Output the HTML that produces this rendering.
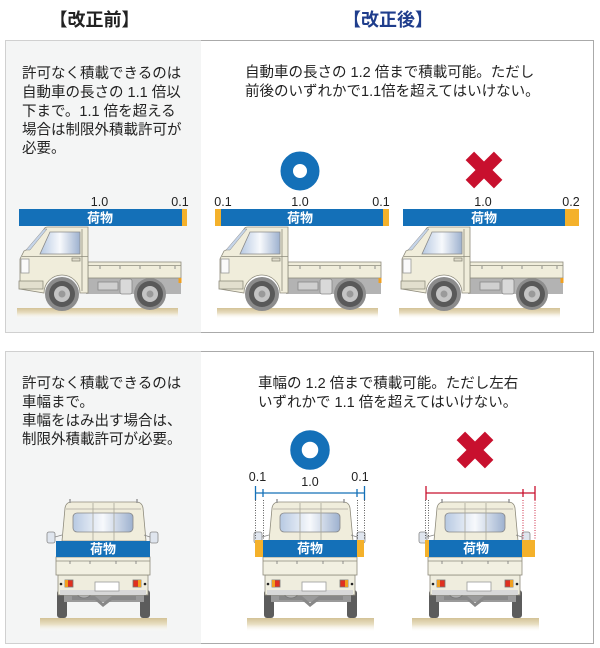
<!DOCTYPE html>
<html><head><meta charset="utf-8"><style>
html,body{margin:0;padding:0;background:#fff;}
svg{display:block}
text{font-family:"Liberation Sans","Noto Sans CJK JP",sans-serif;}
.b{font-size:14.5px;fill:#222}
.n{font-size:12.5px;fill:#222}
.k{font-size:13px;fill:#fff;font-weight:bold}
</style></head><body>
<svg width="600" height="648" viewBox="0 0 600 648" xmlns="http://www.w3.org/2000/svg">
<defs>
 <linearGradient id="win" x1="0" x2="1" y1="0" y2="0">
  <stop offset="0" stop-color="#b7c9e2"/><stop offset="0.5" stop-color="#f7f9fc"/><stop offset="1" stop-color="#9db1cf"/>
 </linearGradient>
 <linearGradient id="gnd" x1="0" x2="0" y1="0" y2="1">
  <stop offset="0" stop-color="#d3c296"/><stop offset="0.45" stop-color="#e9dfc3"/><stop offset="1" stop-color="#ffffff" stop-opacity="0"/>
 </linearGradient>
 <g id="side" stroke="#8e8b7c" stroke-width="0.8">
  <rect x="17" y="308" width="161" height="11" fill="url(#gnd)" stroke="none"/>
  <rect x="86" y="277" width="95" height="17" fill="#b3b3b3" stroke="none"/>
  <rect x="98" y="282" width="20" height="8" fill="#d0d0d0" stroke="#888"/>
  <rect x="120" y="279" width="12" height="15" rx="2" fill="#d9d9d9" stroke="#888"/>
  <circle cx="150" cy="294" r="16" fill="#8c8c8c" stroke="none"/>
  <rect x="88" y="262" width="93" height="16" fill="#f0eddb"/>
  <line x1="88" y1="265.5" x2="181" y2="265.5"/>
  <path d="M100 266v3M120 266v3M140 266v3M160 266v3M175 266v3" stroke="#777"/>
  <rect x="178.5" y="278" width="3" height="5" fill="#f0a020" stroke="none"/>
  <circle cx="62" cy="294" r="17" fill="#8c8c8c" stroke="none"/>
  <path d="M20 289 L20 259 L24 251 L32 247 L44 229 Q45 227 48 227 L88 227 L88 293 L80 293 A18 18 0 0 0 44 293 Z" fill="#f0eddb"/>
  <path d="M26 250 L44 229 L47 229 L30 250 Z" fill="#c5d4e8" stroke="#8a8a8a" stroke-width="0.5"/>
  <path d="M50 232 L80 232 L80 254 L40 254 Z" fill="url(#win)" stroke="#8a8a8a"/>
  <line x1="82" y1="229" x2="82" y2="291"/>
  <line x1="22" y1="256.5" x2="88" y2="256.5"/>
  <rect x="72" y="258" width="8" height="3" fill="#e0ddcc"/>
  <rect x="21" y="259" width="8" height="14" fill="#fafafa" stroke="#999"/>
  <rect x="19" y="281" width="24" height="8" fill="#e2dfce"/>
  <circle cx="62" cy="294" r="13" fill="#595959" stroke="none"/>
  <circle cx="62" cy="294" r="8" fill="#c4c4c4" stroke="none"/>
  <circle cx="62" cy="294" r="3.5" fill="#9a9a9a" stroke="none"/>
  <circle cx="150" cy="294" r="13" fill="#595959" stroke="none"/>
  <circle cx="150" cy="294" r="8" fill="#c4c4c4" stroke="none"/>
  <circle cx="150" cy="294" r="3.5" fill="#9a9a9a" stroke="none"/>
 </g>
 <g id="rear" stroke="#8e8b7c" stroke-width="0.8">
  <rect x="40" y="618" width="127" height="14" fill="url(#gnd)" stroke="none"/>
  <rect x="57" y="590" width="10" height="28" rx="3" fill="#5c5c5c" stroke="none"/>
  <rect x="140" y="590" width="10" height="28" rx="3" fill="#5c5c5c" stroke="none"/>
  <rect x="64" y="592" width="80" height="10" fill="#9a9a9a" stroke="none"/>
  <path d="M72 596 L95 596 L103 603 L112 596 L136 596 L136 600 L112 600 L103 607 L95 600 L72 600 Z" fill="#888" stroke="none"/>
  <ellipse cx="84" cy="591" rx="8" ry="7" fill="#b0b0b0" stroke="#777"/>
  <rect x="58" y="575" width="90" height="20" fill="#efedde"/>
  <rect x="60" y="590" width="86" height="5" fill="#d8d8d8" stroke="none"/>
  <rect x="95" y="582" width="24" height="9" fill="#fff" stroke="#999"/>
  <rect x="65" y="580" width="8" height="7" fill="#e03020" stroke="#777"/>
  <rect x="65" y="580" width="3" height="7" fill="#f0a020" stroke="none"/>
  <rect x="133" y="580" width="8" height="7" fill="#e03020" stroke="#777"/>
  <rect x="138" y="580" width="3" height="7" fill="#f0a020" stroke="none"/>
  <circle cx="61" cy="584" r="1.3" fill="#222" stroke="none"/>
  <circle cx="145" cy="584" r="1.3" fill="#222" stroke="none"/>
  <rect x="56" y="557" width="94" height="18" fill="#f2f0e2"/>
  <line x1="56" y1="561" x2="150" y2="561"/>
  <path d="M70 561v3M90 561v3M116 561v3M136 561v3" stroke="#777"/>
  <path d="M62 541 L65 508 Q66 502 72 502 L136 502 Q142 502 143 508 L146 541 Z" fill="#f0eddc"/>
  <path d="M70 499v4M137 499v4" stroke="#999" stroke-width="1.5"/>
  <rect x="73" y="513" width="60" height="19" rx="4" fill="url(#win)" stroke="#888"/>
  <path d="M93 503V541M114 503V541M66 509H141" stroke="#a9a79a"/>
  <path d="M55 537 L62 535M150 537 L144 535" stroke="#888"/>
  <rect x="47" y="532" width="8" height="11" rx="2" fill="#dfe5ee" stroke="#888"/>
  <rect x="150" y="532" width="8" height="11" rx="2" fill="#dfe5ee" stroke="#888"/>
 </g>
</defs>

<!-- headings -->
<text x="94.5" y="26" font-size="18" font-weight="bold" text-anchor="middle" fill="#222">【改正前】</text>
<text x="388" y="26" font-size="18" font-weight="bold" text-anchor="middle" fill="#1f3d8c">【改正後】</text>

<!-- panel 1 -->
<rect x="200.5" y="40.5" width="393" height="292" fill="#fff" stroke="#aaa"/>
<rect x="5" y="40" width="196" height="293" fill="#f4f5f5"/>
<path d="M201 40.5 H5.5 V332.5 H201" fill="none" stroke="#d0d0d0"/>

<text class="b" x="22" y="78">許可なく積載できるのは</text>
<text class="b" x="22" y="97">自動車の長さの 1.1 倍以</text>
<text class="b" x="22" y="116">下まで。1.1 倍を超える</text>
<text class="b" x="22" y="134.5">場合は制限外積載許可が</text>
<text class="b" x="22" y="153">必要。</text>

<text class="b" x="245" y="77">自動車の長さの 1.2 倍まで積載可能。ただし</text>
<text class="b" x="245" y="96">前後のいずれかで1.1倍を超えてはいけない。</text>

<circle cx="300" cy="171" r="13.25" fill="none" stroke="#1470b8" stroke-width="12.5"/>
<g transform="translate(484,170)" fill="#c8102e">
 <rect x="-20" y="-6" width="40" height="12" transform="rotate(45)"/>
 <rect x="-20" y="-6" width="40" height="12" transform="rotate(-45)"/>
</g>

<use href="#side"/>
<use href="#side" transform="translate(200,0)"/>
<use href="#side" transform="translate(382,0)"/>

<rect x="19" y="209" width="163" height="17" fill="#1470b8"/>
<rect x="182" y="209" width="5" height="17" fill="#f4b12b"/>
<text class="k" x="100" y="222.5" text-anchor="middle">荷物</text>
<text class="n" x="99.5" y="206" text-anchor="middle">1.0</text>
<text class="n" x="180" y="206" text-anchor="middle">0.1</text>

<rect x="215" y="209" width="6" height="17" fill="#f4b12b"/>
<rect x="221" y="209" width="162" height="17" fill="#1470b8"/>
<rect x="383" y="209" width="6" height="17" fill="#f4b12b"/>
<text class="k" x="300" y="222.5" text-anchor="middle">荷物</text>
<text class="n" x="223" y="206" text-anchor="middle">0.1</text>
<text class="n" x="300" y="206" text-anchor="middle">1.0</text>
<text class="n" x="381" y="206" text-anchor="middle">0.1</text>

<rect x="403" y="209" width="162" height="17" fill="#1470b8"/>
<rect x="565" y="209" width="14" height="17" fill="#f4b12b"/>
<text class="k" x="484" y="222.5" text-anchor="middle">荷物</text>
<text class="n" x="483" y="206" text-anchor="middle">1.0</text>
<text class="n" x="571" y="206" text-anchor="middle">0.2</text>

<!-- panel 2 -->
<rect x="200.5" y="351.5" width="393" height="292" fill="#fff" stroke="#aaa"/>
<rect x="5" y="351" width="196" height="293" fill="#f4f5f5"/>
<path d="M201 351.5 H5.5 V643.5 H201" fill="none" stroke="#d0d0d0"/>

<text class="b" x="22" y="388">許可なく積載できるのは</text>
<text class="b" x="22" y="407">車幅まで。</text>
<text class="b" x="22" y="425.5">車幅をはみ出す場合は、</text>
<text class="b" x="22" y="444">制限外積載許可が必要。</text>

<text class="b" x="258" y="388">車幅の 1.2 倍まで積載可能。ただし左右</text>
<text class="b" x="258" y="407">いずれかで 1.1 倍を超えてはいけない。</text>

<circle cx="310" cy="450" r="14" fill="none" stroke="#1470b8" stroke-width="11.5"/>
<g transform="translate(475,450)" fill="#c8102e">
 <rect x="-20" y="-6" width="40" height="12" transform="rotate(45)"/>
 <rect x="-20" y="-6" width="40" height="12" transform="rotate(-45)"/>
</g>

<use href="#rear"/>
<use href="#rear" transform="translate(207,0)"/>
<use href="#rear" transform="translate(372,0)"/>

<!-- left rear bar -->
<rect x="56" y="541" width="94" height="16" fill="#1470b8"/>
<text class="k" x="103" y="553.5" text-anchor="middle">荷物</text>

<!-- middle rear -->
<g stroke="#333" stroke-width="0.8" stroke-dasharray="1 1.5">
 <path d="M255.5 500V539M263.5 500V539M357.5 500V539M364.5 500V539"/>
</g>
<rect x="255" y="540" width="8" height="17" fill="#f4b12b"/>
<rect x="263" y="540" width="94" height="17" fill="#1470b8"/>
<rect x="357" y="540" width="7" height="17" fill="#f4b12b"/>
<text class="k" x="310" y="553" text-anchor="middle">荷物</text>
<g stroke="#1470b8" stroke-width="1.3">
 <line x1="255.5" y1="493" x2="364.5" y2="493"/>
 <line x1="255.5" y1="486" x2="255.5" y2="500"/>
 <line x1="364.5" y1="486" x2="364.5" y2="500"/>
 <line x1="263" y1="489" x2="263" y2="497"/>
 <line x1="357" y1="489" x2="357" y2="497"/>
</g>
<text class="n" x="257.5" y="481" text-anchor="middle">0.1</text>
<text class="n" x="310" y="486" text-anchor="middle">1.0</text>
<text class="n" x="360" y="481" text-anchor="middle">0.1</text>

<!-- right rear -->
<g stroke="#333" stroke-width="0.8" stroke-dasharray="1 1.5">
 <path d="M425.5 500V539M428.5 500V539"/>
</g>
<g stroke="#c8102e" stroke-width="0.9" stroke-dasharray="1 1.5">
 <path d="M523 500V539M535 500V539"/>
</g>
<rect x="425" y="540" width="4" height="17" fill="#f4b12b"/>
<rect x="429" y="540" width="93" height="17" fill="#1470b8"/>
<rect x="522" y="540" width="13" height="17" fill="#f4b12b"/>
<text class="k" x="476" y="553" text-anchor="middle">荷物</text>
<g stroke="#c8102e" stroke-width="1.3">
 <line x1="426" y1="493" x2="535" y2="493"/>
 <line x1="426" y1="486" x2="426" y2="500"/>
 <line x1="535" y1="486" x2="535" y2="500"/>
 <line x1="523" y1="489" x2="523" y2="497"/>
</g>
</svg>
</body></html>
